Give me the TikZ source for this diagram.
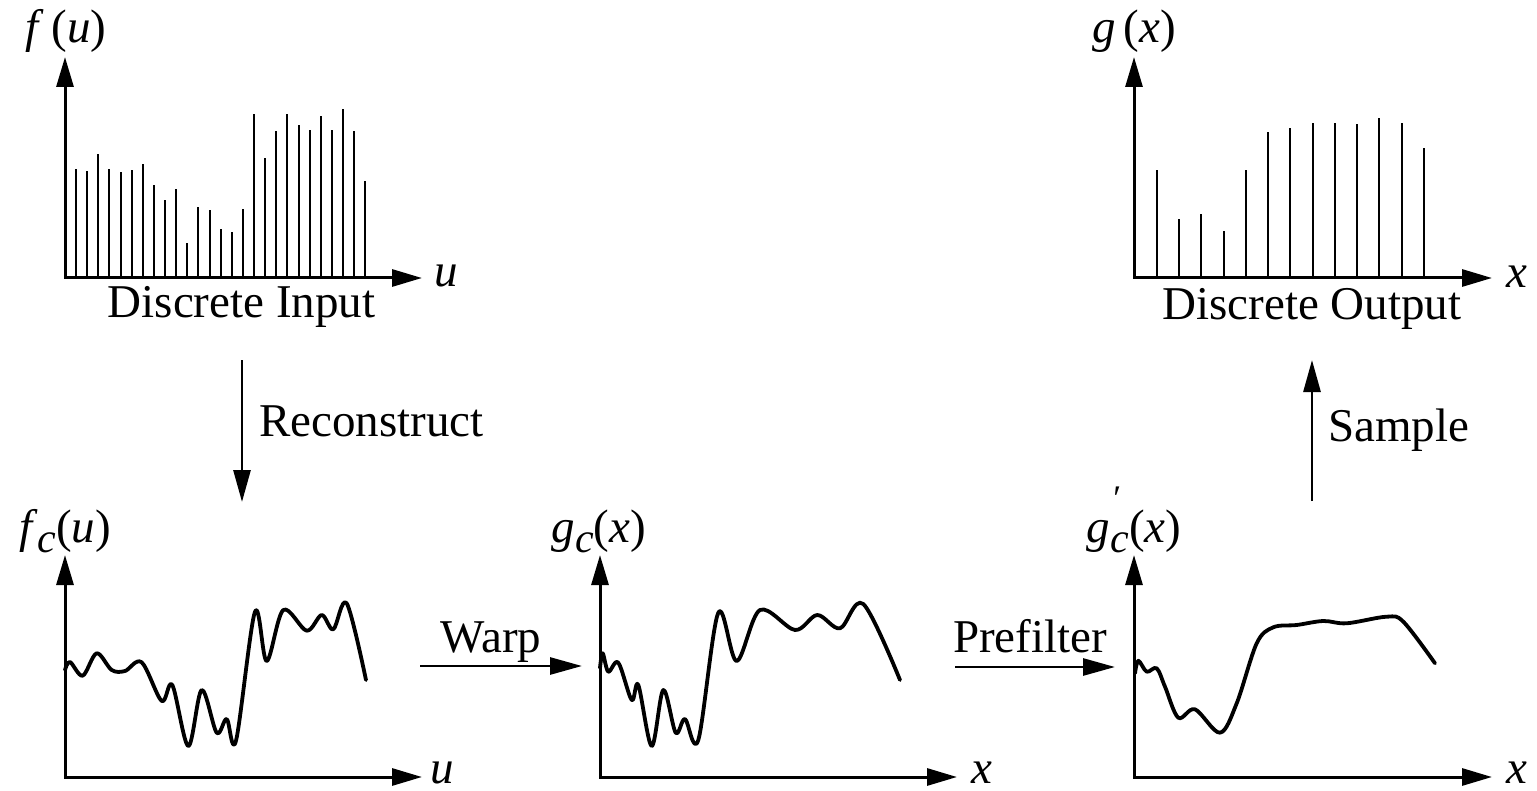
\documentclass[tikz,border=0pt]{standalone}
\usepackage{fontspec}
\setmainfont{Liberation Serif}
\usetikzlibrary{arrows.meta}
\newcommand{\subc}{\raisebox{-0.22em}{\fontsize{21}{21}\selectfont\textit{c}}}
\begin{document}
\begin{tikzpicture}[x=0.5pt,y=-0.5pt,
  axes/.style={line width=1.5pt,line join=miter,{Triangle[length=15pt,width=8.5pt]}-{Triangle[length=15pt,width=8.5pt]}},
  flow/.style={line width=1.4pt,-{Triangle[length=16pt,width=8.5pt]}},
  bar/.style={line width=1pt},
  curve/.style={line width=1.9pt,line join=round,line cap=round},
  lbl/.style={inner sep=0pt,font=\fontsize{23.5}{28}\selectfont},
  ]
\useasboundingbox (0,0) rectangle (1537,791);

% ---------- top-left: discrete input ----------
\coordinate (o1) at (65,278);
\coordinate (y1) at (65,57);
\coordinate (x1) at (422,278);
\foreach \h [count=\i from 0] in {169,171,154,169,172,170,164,185,200,189,243,207,210,229,232,209,114,158,131,114,125,130,116,130,109,131,181}
  \draw[bar] ({76+11.13*\i},278) -- ({76+11.13*\i},\h);
\draw[axes] (y1) -- (o1) -- (x1);
\node[lbl,anchor=base] (lf) at (66,43) {\textit{f}\,(\textit{u})};
\node[lbl,anchor=base] (lu1) at (446,287) {\textit{u}};
\node[lbl,anchor=base] (din) at (241.5,318) {Discrete Input};

% ---------- top-right: discrete output ----------
\coordinate (o2) at (1134,278);
\coordinate (y2) at (1134,57);
\coordinate (x2) at (1492,278);
\foreach \h [count=\i from 0] in {170,219,214,231,170,132,128,123,123,124,118,123,148}
  \draw[bar] ({1156.7+22.27*\i},278) -- ({1156.7+22.27*\i},\h);
\draw[axes] (y2) -- (o2) -- (x2);
\node[lbl,anchor=base] (lg) at (1134,43) {\textit{g}\,(\textit{x})};
\node[lbl,anchor=base] (lx2) at (1517,288) {\textit{x}};
\node[lbl,anchor=base] (dout) at (1312,320) {Discrete Output};

% ---------- bottom-left: f_c ----------
\coordinate (o3) at (65,777);
\coordinate (y3) at (65,555);
\coordinate (x3) at (422,777);
\draw[axes] (y3) -- (o3) -- (x3);
\draw[curve] plot[smooth,tension=0.55] coordinates {(65,670) (70,662) (82.7,675.7) (96.7,653.3) (111.7,670) (125,671) (141.7,662.3) (161.7,701) (172.3,685) (188.3,746) (201.7,690) (216.7,732.7) (226.7,719) (236,740.7) (255,611.7) (266.7,661) (283.3,610) (306.7,630.7) (321.7,615) (333.3,629.3) (346.7,603.3) (366,680)};
\node[lbl,anchor=base] (lfc) at (65,542) {\textit{f}\subc(\textit{u})};
\node[lbl,anchor=base] (lu3) at (442,783) {\textit{u}};

% ---------- bottom-middle: g_c ----------
\coordinate (o4) at (600,777);
\coordinate (y4) at (600,555);
\coordinate (x4) at (957,777);
\draw[axes] (y4) -- (o4) -- (x4);
\draw[curve] plot[smooth,tension=0.55] coordinates {(600,668) (602.7,653.3) (608.3,671.7) (618.3,662.7) (631.7,700) (638.3,685) (651.7,746) (663.3,690) (675.7,732.7) (685,719) (698.3,740) (718.3,612.7) (736.7,661) (760,610) (795,630) (817.3,615) (840,628.3) (863.3,604) (900,680)};
\node[lbl,anchor=base] (lgc) at (599,542) {\textit{g}\subc(\textit{x})};
\node[lbl,anchor=base] (lx4) at (982,783) {\textit{x}};

% ---------- bottom-right: g'_c ----------
\coordinate (o5) at (1134,777);
\coordinate (y5) at (1134,555);
\coordinate (x5) at (1492,777);
\draw[axes] (y5) -- (o5) -- (x5);
\draw[curve] plot[smooth,tension=0.55] coordinates {(1135,673.3) (1138.3,660.7) (1146.7,671.7) (1156.7,668.3) (1165,686.7) (1178.3,717.7) (1195,709.3) (1220,732.7) (1236.7,703.3) (1256.7,643.3) (1273.3,627.3) (1296.7,625) (1323.3,621) (1346.7,623.3) (1386.7,616.7) (1403.3,621.7) (1435,663.3)};
\node[lbl,anchor=base] (lgcp) at (1134,542) {\textit{g}\rlap{\raisebox{0.68em}{\fontsize{18}{18}\selectfont\kern0.02em\textit{\char"2032}}}\subc(\textit{x})};
\node[lbl,anchor=base] (lx5) at (1517,783) {\textit{x}};

% ---------- process arrows ----------
\coordinate (r1) at (242,360);
\coordinate (r2) at (242,502);
\draw[flow] (r1) -- (r2);
\node[lbl,anchor=base west] (trec) at (259,437) {Reconstruct};

\coordinate (s1) at (1312,501);
\coordinate (s2) at (1312,360);
\draw[flow] (s1) -- (s2);
\node[lbl,anchor=base west] (tsam) at (1328,441) {Sample};

\coordinate (w1) at (420,666);
\coordinate (w2) at (582,666);
\draw[flow] (w1) -- (w2);
\node[lbl,anchor=base] (twarp) at (491,652) {Warp};

\coordinate (p1) at (955,667);
\coordinate (p2) at (1115,667);
\draw[flow] (p1) -- (p2);
\node[lbl,anchor=base] (tpre) at (1030,652) {Prefilter};
\end{tikzpicture}
\end{document}
